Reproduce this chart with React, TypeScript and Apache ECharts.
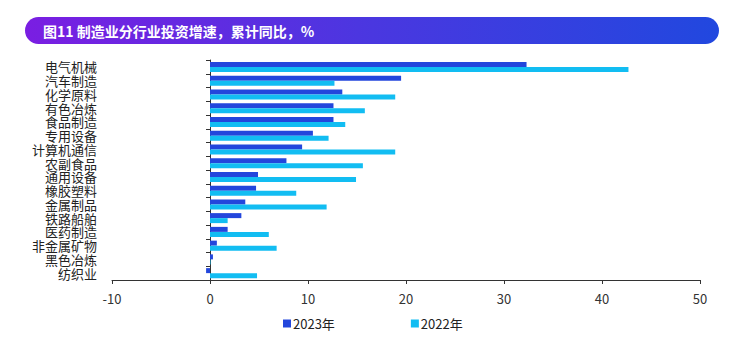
import React, { useEffect, useRef } from "react";
import * as echarts from "echarts";

const categories = ["电气机械", "汽车制造", "化学原料", "有色冶炼", "食品制造", "专用设备", "计算机通信", "农副食品", "通用设备", "橡胶塑料", "金属制品", "铁路船舶", "医药制造", "非金属矿物", "黑色冶炼", "纺织业"];
const values2023 = [32.3, 19.5, 13.5, 12.6, 12.6, 10.5, 9.4, 7.8, 4.9, 4.7, 3.6, 3.2, 1.8, 0.7, 0.3, -0.4];
const values2022 = [42.7, 12.7, 18.9, 15.8, 13.8, 12.1, 18.9, 15.6, 14.9, 8.8, 11.9, 1.8, 6.0, 6.8, 0.05, 4.8];
const xTicks = { min: -10, max: 50, interval: 10 };
const title = "图11 制造业分行业投资增速，累计同比，%";

export default function App() {
  const ref = useRef<HTMLDivElement>(null);
  useEffect(() => {
    const chart = echarts.init(ref.current!, null, { renderer: "svg" });
    chart.setOption({
      animation: false,
      backgroundColor: "#ffffff",
      graphic: [
        {
          type: "rect",
          shape: { x: 25, y: 17, width: 694, height: 27, r: 13.5 },
          style: {
            fill: new echarts.graphic.LinearGradient(0, 0, 1, 0, [
              { offset: 0, color: "#7a1ee2" },
              { offset: 0.5, color: "#4a37e0" },
              { offset: 1, color: "#2148df" },
            ]),
          },
        },
        {
          type: "text",
          x: 43,
          y: 31,
          style: {
            text: title,
            fill: "#ffffff",
            font: "bold 14px 'Noto Sans CJK SC', sans-serif",
            textVerticalAlign: "middle",
          },
        },
      ],
      legend: {
        bottom: 8,
        left: 278,
        itemWidth: 8,
        itemHeight: 8,
        itemGap: 76,
        icon: "rect",
        textStyle: { fontSize: 13, color: "#222", fontFamily: "'Noto Sans CJK SC', sans-serif", padding: [0, 0, 0, -3] },
        data: ["2023年", "2022年"],
      },
      grid: { left: 112, right: 48, top: 60, bottom: 63, containLabel: false, outerBoundsMode: "none" },
      xAxis: {
        type: "value",
        min: xTicks.min,
        max: xTicks.max,
        interval: xTicks.interval,
        splitLine: { show: false },
        axisLine: { show: true, onZero: false, lineStyle: { color: "#333", width: 1 } },
        axisTick: { show: true, length: 4, lineStyle: { color: "#333" } },
        axisLabel: { color: "#333", fontSize: 13, margin: 12, fontFamily: "'Noto Sans CJK SC', sans-serif" },
      },
      yAxis: {
        type: "category",
        data: categories,
        inverse: true,
        axisLine: { show: true, onZero: true, lineStyle: { color: "#333", width: 1 } },
        axisTick: { show: true, length: 4, lineStyle: { color: "#333" } },
        axisLabel: { interval: 0, color: "#222", fontSize: 13, lineHeight: 13, margin: 15, fontFamily: "'Noto Sans CJK SC', sans-serif" },
      },
      series: [
        {
          name: "2023年",
          type: "bar",
          data: values2023,
          barWidth: 5,
          barGap: "0%",
          itemStyle: { color: "#2346dc" },
        },
        {
          name: "2022年",
          type: "bar",
          data: values2022,
          barWidth: 5,
          barGap: "0%",
          itemStyle: { color: "#12bdf2" },
        },
      ],
    });
    return () => chart.dispose();
  }, []);
  return <div ref={ref} style={{ position: "fixed", left: 0, top: 0, width: 748, height: 343 }} />;
}
